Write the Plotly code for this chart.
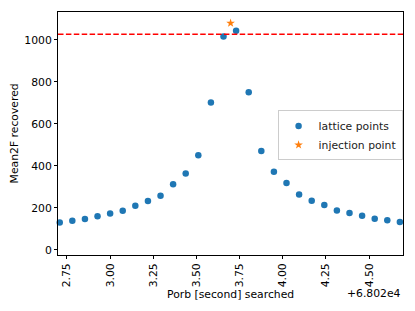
import plotly.graph_objects as go

# offset-scaled Porb values (axis shows +6.802e4 offset)
porb_lattice = [2.708, 2.781, 2.854, 2.927, 3.000, 3.073, 3.146, 3.219, 3.292, 3.365,
                3.438, 3.511, 3.584, 3.657, 3.730, 3.803, 3.876, 3.949, 4.022, 4.095,
                4.168, 4.241, 4.314, 4.387, 4.460, 4.533, 4.606, 4.679]
mean2f_lattice = [131, 139, 147, 160, 174, 187, 210, 233, 258, 312,
                  364, 451, 702, 1016, 1043, 750, 471, 372, 319, 264,
                  234, 214, 188, 176, 163, 149, 141, 133]
porb_injection = [3.698]
mean2f_injection = [1079]
threshold = 1026
x_ticks = [2.75, 3.00, 3.25, 3.50, 3.75, 4.00, 4.25, 4.50]
x_tick_labels = ["2.75", "3.00", "3.25", "3.50", "3.75", "4.00", "4.25", "4.50"]
y_ticks = [0, 200, 400, 600, 800, 1000]
offset_label = "+6.802e4"

FONT = "DejaVu Sans"
FS = 10.8

fig = go.Figure()
fig.add_trace(go.Scatter(
    x=porb_lattice, y=mean2f_lattice, mode="markers", name="lattice points",
    marker=dict(color="#1f77b4", size=6.5, symbol="circle"), cliponaxis=False))
fig.add_trace(go.Scatter(
    x=porb_injection, y=mean2f_injection, mode="markers", name="injection point",
    marker=dict(color="#ff7f0e", size=6.5, symbol="star")))

fig.add_shape(type="line", xref="paper", x0=0, x1=1, yref="y", y0=threshold, y1=threshold,
              line=dict(color="red", width=1.5, dash="5.5px,2.4px"))

fig.update_layout(
    width=415, height=311, autosize=False,
    margin=dict(l=58, r=12, t=12, b=56),
    plot_bgcolor="white", paper_bgcolor="white",
    font=dict(family=FONT, size=FS, color="black"),
    showlegend=True,
    legend=dict(x=0.6365, y=0.595, xanchor="left", yanchor="top",
                bgcolor="rgba(255,255,255,0.8)", bordercolor="#cccccc", borderwidth=1,
                font=dict(family=FONT, size=FS, color="#222"), itemwidth=30,
                tracegroupgap=0),
    xaxis=dict(range=[2.698, 4.697], tickvals=x_ticks, ticktext=x_tick_labels,
               tickangle=-90, ticks="outside", ticklen=3, tickcolor="black",
               showline=True, linecolor="black", linewidth=1, mirror=True,
               showgrid=False, zeroline=False),
    yaxis=dict(range=[-24, 1132], tickvals=y_ticks, ticks="outside", ticklen=3,
               tickcolor="black", showline=True, linecolor="black", linewidth=1,
               mirror=True, showgrid=False, zeroline=False),
    annotations=[
        dict(text="Porb [second] searched", xref="paper", yref="paper", x=0.5, y=-0.162,
             yanchor="middle", xanchor="center", showarrow=False,
             font=dict(family=FONT, size=FS)),
        dict(text=offset_label, xref="paper", yref="paper", x=1.0, y=-0.16,
             yanchor="middle", xanchor="right", showarrow=False,
             font=dict(family=FONT, size=FS)),
        dict(text="Mean2F recovered", xref="paper", yref="paper", x=-0.125, y=0.5,
             textangle=-90, xanchor="center", yanchor="middle", showarrow=False,
             font=dict(family=FONT, size=FS)),
    ],
)

fig.write_html("out.html", config={"displayModeBar": False},
               post_script="document.body.style.margin='0';")
